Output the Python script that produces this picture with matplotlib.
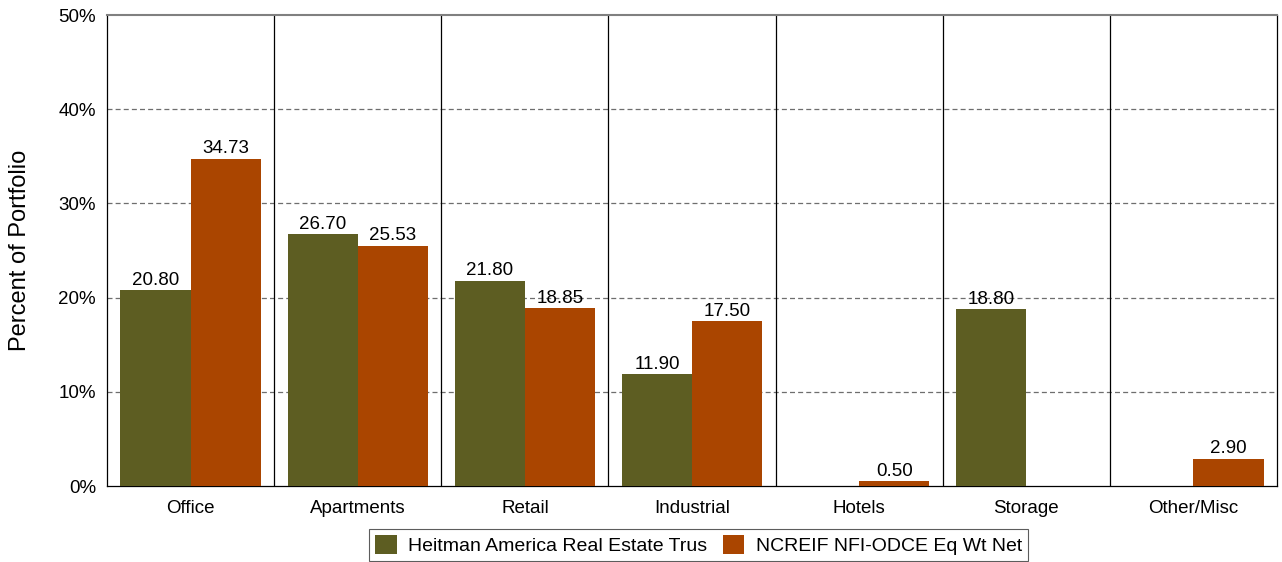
"""Property type allocation: fund vs. NCREIF ODCE benchmark."""
import matplotlib

matplotlib.use("Agg")

import matplotlib.pyplot as plt  # noqa: E402
from matplotlib.ticker import FuncFormatter  # noqa: E402

categories = ["Office", "Apartments", "Retail", "Industrial", "Hotels",
              "Storage", "Other/Misc"]
heitman = [20.80, 26.70, 21.80, 11.90, 0.0, 18.80, 0.0]
ncreif = [34.73, 25.53, 18.85, 17.50, 0.50, 0.0, 2.90]
series_names = ["Heitman America Real Estate Trus", "NCREIF NFI-ODCE Eq Wt Net"]

GREEN = "#5D5D22"
ORANGE = "#AA4500"
BAR_W = 0.42
FS = 13.5

plt.rcParams["font.family"] = ["Liberation Sans", "DejaVu Sans"]

fig = plt.figure(figsize=(12.82, 5.62), dpi=100)
ax = fig.add_axes([0.0835, 0.1352, 0.9126, 0.8381])

x = range(len(categories))
xl = [i - BAR_W / 2 for i in x]
xr = [i + BAR_W / 2 for i in x]
b1 = ax.bar(xl, heitman, width=BAR_W, color=GREEN, zorder=3,
            label=series_names[0])
b2 = ax.bar(xr, ncreif, width=BAR_W, color=ORANGE, zorder=3,
            label=series_names[1])

for bars, vals in ((b1, heitman), (b2, ncreif)):
    for rect, v in zip(bars, vals):
        if v <= 0:
            continue
        ax.text(rect.get_x() + rect.get_width() / 2, v + 0.15, f"{v:.2f}",
                ha="center", va="bottom", fontsize=FS, zorder=4)

ax.set_xlim(-0.5, len(categories) - 0.5)
ax.set_ylim(0, 50)
ax.set_yticks([0, 10, 20, 30, 40, 50])
ax.yaxis.set_major_formatter(FuncFormatter(lambda v, _: f"{v:.0f}%"))
ax.set_xticks(list(x))
ax.set_xticklabels(categories)
ax.tick_params(axis="both", length=0, labelsize=FS)
ax.tick_params(axis="x", pad=10)
ax.tick_params(axis="y", pad=8)
ax.set_ylabel("Percent of Portfolio", fontsize=17, labelpad=20)

# dashed horizontal grid
for yv in (10, 20, 30, 40):
    ax.axhline(yv, color="#6E6E6E", lw=0.9, ls=(0, (4, 2.5)), zorder=1)

# category separators
for i in range(len(categories) - 1):
    ax.axvline(i + 0.5, color="black", lw=0.9, zorder=2)

for side in ("left", "right", "bottom"):
    ax.spines[side].set_color("black")
    ax.spines[side].set_linewidth(0.9)
ax.spines["top"].set_color("#808080")
ax.spines["top"].set_linewidth(1.5)

leg = fig.legend(loc="upper center", bbox_to_anchor=(0.545, 0.0587), ncol=2,
                 frameon=True, fancybox=False, fontsize=14,
                 handlelength=1.1, handleheight=1.1, handletextpad=0.6,
                 columnspacing=0.8, borderpad=0.3, borderaxespad=0)
leg.get_frame().set_edgecolor("#333333")
leg.get_frame().set_linewidth(0.8)

fig.savefig("out.png", dpi=100)
plt.close(fig)
